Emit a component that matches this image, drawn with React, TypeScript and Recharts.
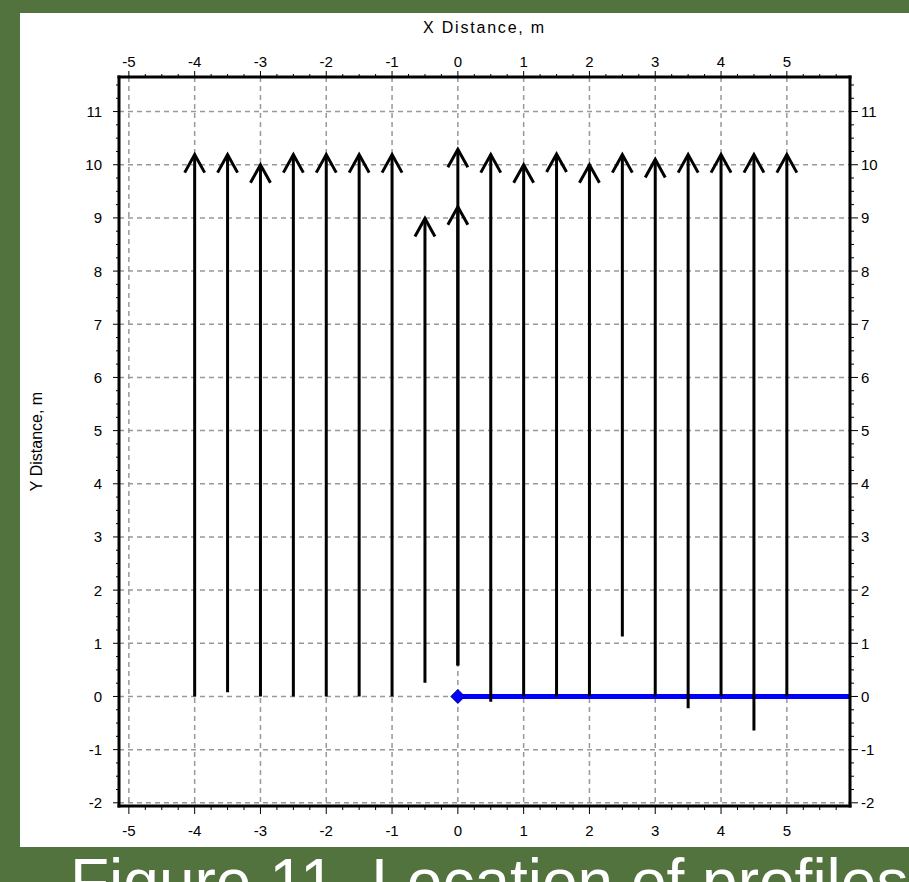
import React from 'react';
import { LineChart, Line, XAxis, YAxis, CartesianGrid } from 'recharts';

// ---- data ----
const X_DOMAIN: [number, number] = [-5.15, 5.96];
const Y_DOMAIN: [number, number] = [-2.06, 11.65];

const profileX = [-4, -3.5, -3, -2.5, -2, -1.5, -1, -0.5, 0, 0.5, 1, 1.5, 2, 2.5, 3, 3.5, 4, 4.5, 5];
const profileStart = [0, 0.08, 0, 0, 0, 0, 0, 0.26, 0.58, -0.1, 0, 0, 0, 1.13, 0, -0.22, 0, -0.64, 0];
const profileEnd = [10.19, 10.19, 10.0, 10.19, 10.19, 10.19, 10.19, 8.99, 10.29, 10.19, 10.0, 10.2, 10.0, 10.19, 10.1, 10.19, 10.19, 10.19, 10.19];

// second (shorter) profile at x = 0
const extraProfileX = [0];
const extraProfileStart = [0.58];
const extraProfileEnd = [9.21];

// baseline (blue)
const baselineX = [0, 5.96];
const baselineY = [0, 0];

// ticks
const xMajorTicks = [-5, -4, -3, -2, -1, 0, 1, 2, 3, 4, 5];
const yMajorTicks = [-2, -1, 0, 1, 2, 3, 4, 5, 6, 7, 8, 9, 10, 11];
const MINOR_STEP = 0.25;

const xAllTicks: number[] = [];
for (let v = -5; v <= 5.75 + 1e-9; v += MINOR_STEP) xAllTicks.push(Math.round(v * 100) / 100);
const yAllTicks: number[] = [];
for (let v = -2; v <= 11.5 + 1e-9; v += MINOR_STEP) yAllTicks.push(Math.round(v * 100) / 100);

const FONT = '"Liberation Sans", Arial, sans-serif';
const isMajor = (v: number) => Math.abs(v - Math.round(v)) < 1e-6;

const TopTick = (p: any) => {
  const { x, y, payload } = p;
  const v = payload.value;
  const m = isMajor(v);
  return (
    <g>
      <line x1={x} y1={y} x2={x} y2={y - (m ? 6 : 3)} stroke="#000" strokeWidth={1} />
      {m && (
        <text x={x} y={y - 16} textAnchor="middle" dominantBaseline="central" fontSize={15} fontFamily={FONT} fill="#000">
          {String(v)}
        </text>
      )}
    </g>
  );
};
const BottomTick = (p: any) => {
  const { x, y, payload } = p;
  const v = payload.value;
  const m = isMajor(v);
  return (
    <g>
      <line x1={x} y1={y} x2={x} y2={y + (m ? 8 : 4)} stroke="#000" strokeWidth={1} />
      {m && (
        <text x={x} y={y + 24} textAnchor="middle" dominantBaseline="central" fontSize={15} fontFamily={FONT} fill="#000">
          {String(v)}
        </text>
      )}
    </g>
  );
};
const LeftTick = (p: any) => {
  const { x, y, payload } = p;
  const v = payload.value;
  const m = isMajor(v);
  return (
    <g>
      <line x1={x} y1={y} x2={x - (m ? 6 : 3)} y2={y} stroke="#000" strokeWidth={1} />
      {m && (
        <text x={x - 17} y={y} textAnchor="end" dominantBaseline="central" fontSize={15} fontFamily={FONT} fill="#000">
          {String(v)}
        </text>
      )}
    </g>
  );
};
const RightTick = (p: any) => {
  const { x, y, payload } = p;
  const v = payload.value;
  const m = isMajor(v);
  return (
    <g>
      <line x1={x} y1={y} x2={x + (m ? 8 : 4)} y2={y} stroke="#000" strokeWidth={1} />
      {m && (
        <text x={x + 11} y={y} textAnchor="start" dominantBaseline="central" fontSize={15} fontFamily={FONT} fill="#000">
          {String(v)}
        </text>
      )}
    </g>
  );
};

const arrowDot = (p: any) => {
  const { cx, cy, index } = p;
  if (index !== 1 || cx == null || cy == null) return <g key={`a-${index}`} />;
  return (
    <path
      key={`a-${index}`}
      d={`M${cx - 10},${cy + 18} L${cx},${cy} L${cx + 10},${cy + 18}`}
      fill="none"
      stroke="#000"
      strokeWidth={3}
      strokeLinejoin="miter"
    />
  );
};

const diamondDot = (p: any) => {
  const { cx, cy, index } = p;
  if (index !== 0 || cx == null || cy == null) return <g key={`d-${index}`} />;
  return (
    <path
      key={`d-${index}`}
      d={`M${cx - 7},${cy} L${cx},${cy - 7} L${cx + 7},${cy} L${cx},${cy + 7} Z`}
      fill="#0000ff"
      stroke="#000080"
      strokeWidth={1}
    />
  );
};

const profiles = profileX.map((x, i) => ({
  id: `p${i}`,
  data: [
    { x, y: profileStart[i] },
    { x, y: profileEnd[i] },
  ],
}));
const extraProfiles = extraProfileX.map((x, i) => ({
  id: `e${i}`,
  data: [
    { x, y: extraProfileStart[i] },
    { x, y: extraProfileEnd[i] },
  ],
}));
const baselineData = baselineX.map((x, i) => ({ x, y: baselineY[i] }));

export default function App() {
  return (
    <div
      style={{
        position: 'absolute',
        left: 0,
        top: 0,
        width: 909,
        height: 882,
        background: '#52733e',
        overflow: 'hidden',
      }}
    >
      <div style={{ position: 'absolute', left: 20, top: 13, width: 889, height: 834, background: '#ffffff' }}>
        <LineChart width={889} height={834} margin={{ top: 0, right: 0, bottom: 0, left: 0 }}>
          <XAxis xAxisId="gx" type="number" dataKey="x" domain={X_DOMAIN} allowDataOverflow ticks={xMajorTicks} height={0} hide />
          <YAxis yAxisId="gy" type="number" dataKey="y" domain={Y_DOMAIN} allowDataOverflow ticks={yMajorTicks} width={0} hide />
          <CartesianGrid xAxisId="gx" yAxisId="gy" stroke="#999999" strokeDasharray="5 4" strokeWidth={1.5} />
          <XAxis
            xAxisId="top"
            orientation="top"
            type="number"
            dataKey="x"
            domain={X_DOMAIN}
            allowDataOverflow
            ticks={xAllTicks}
            interval={0}
            height={64}
            tickSize={0}
            tickMargin={0}
            tickLine={false}
            tick={TopTick}
            axisLine={{ stroke: '#000', strokeWidth: 3, strokeLinecap: 'square' }}
            label={{
              content: (lp: any) => {
                const vb = lp.viewBox || {};
                return (
                  <text
                    x={(vb.x ?? 0) + (vb.width ?? 0) / 2}
                    y={(vb.y ?? 0) + 20}
                    textAnchor="middle"
                    fontSize={16}
                    fontFamily={FONT}
                    letterSpacing={1.8}
                    fill="#000"
                  >
                    X Distance, m
                  </text>
                );
              },
            }}
          />
          <XAxis
            xAxisId="bottom"
            orientation="bottom"
            type="number"
            dataKey="x"
            domain={X_DOMAIN}
            allowDataOverflow
            ticks={xAllTicks}
            interval={0}
            height={41}
            tickSize={0}
            tickMargin={0}
            tickLine={false}
            tick={BottomTick}
            axisLine={{ stroke: '#000', strokeWidth: 3, strokeLinecap: 'square' }}
          />
          <YAxis
            yAxisId="left"
            orientation="left"
            type="number"
            dataKey="y"
            domain={Y_DOMAIN}
            allowDataOverflow
            ticks={yAllTicks}
            interval={0}
            width={99}
            tickSize={0}
            tickMargin={0}
            tickLine={false}
            tick={LeftTick}
            axisLine={{ stroke: '#000', strokeWidth: 3, strokeLinecap: 'square' }}
            label={{
              content: (lp: any) => {
                const vb = lp.viewBox || {};
                const cx = (vb.x ?? 0) + 22;
                const cy = (vb.y ?? 0) + (vb.height ?? 0) / 2;
                return (
                  <text
                    x={cx}
                    y={cy}
                    textAnchor="middle"
                    transform={`rotate(-90, ${cx}, ${cy})`}
                    fontSize={16}
                    fontFamily={FONT}
                    fill="#000"
                  >
                    Y Distance, m
                  </text>
                );
              },
            }}
          />
          <YAxis
            yAxisId="right"
            orientation="right"
            type="number"
            dataKey="y"
            domain={Y_DOMAIN}
            allowDataOverflow
            ticks={yAllTicks}
            interval={0}
            width={59}
            tickSize={0}
            tickMargin={0}
            tickLine={false}
            tick={RightTick}
            axisLine={{ stroke: '#000', strokeWidth: 3, strokeLinecap: 'square' }}
          />
          <Line
            xAxisId="bottom"
            yAxisId="left"
            data={baselineData}
            dataKey="y"
            stroke="#0000ff"
            strokeWidth={5}
            dot={diamondDot}
            activeDot={false}
            isAnimationActive={false}
          />
          {profiles.map((p) => (
            <Line
              key={p.id}
              xAxisId="bottom"
              yAxisId="left"
              data={p.data}
              dataKey="y"
              stroke="#000"
              strokeWidth={3}
              dot={arrowDot}
              activeDot={false}
              isAnimationActive={false}
            />
          ))}
          {extraProfiles.map((p) => (
            <Line
              key={p.id}
              xAxisId="bottom"
              yAxisId="left"
              data={p.data}
              dataKey="y"
              stroke="#000"
              strokeWidth={3}
              dot={arrowDot}
              activeDot={false}
              isAnimationActive={false}
            />
          ))}
        </LineChart>
      </div>
      <div
        style={{
          position: 'absolute',
          left: 70,
          top: 850,
          fontFamily: FONT,
          fontSize: 64,
          lineHeight: '64px',
          color: '#ffffff',
          whiteSpace: 'nowrap',
        }}
      >
        Figure 11. Location of profiles
      </div>
    </div>
  );
}
